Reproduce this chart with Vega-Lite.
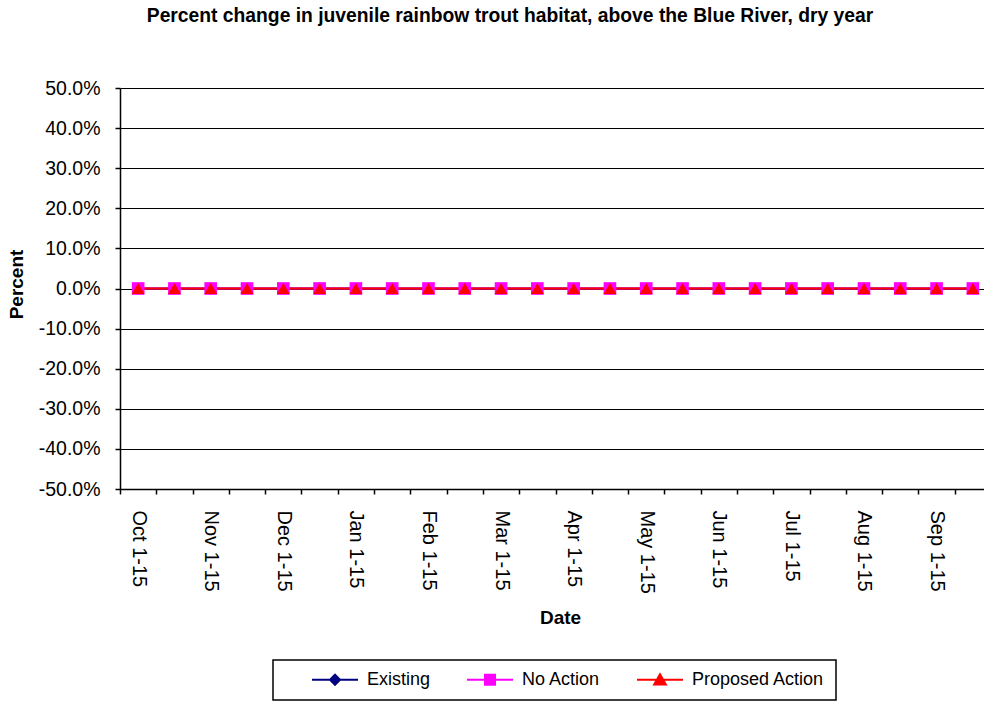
{
  "$schema": "https://vega.github.io/schema/vega-lite/v6.json",
  "width": 864,
  "height": 401,
  "autosize": {"type": "none"},
  "padding": {"left": 120, "top": 88, "right": 0, "bottom": 213},
  "background": "white",
  "title": {
    "text": "Percent change in juvenile rainbow trout habitat, above the Blue River, dry year",
    "font": "Liberation Sans",
    "fontSize": 19.3,
    "fontWeight": "bold",
    "color": "black",
    "anchor": "middle",
    "frame": "group",
    "dx": -42,
    "offset": 52
  },
  "data": {
    "values": [
      {"d": "Oct 1-15", "s": "Existing", "v": 0}, {"d": "Oct 16-31", "s": "Existing", "v": 0},
      {"d": "Nov 1-15", "s": "Existing", "v": 0}, {"d": "Nov 16-30", "s": "Existing", "v": 0},
      {"d": "Dec 1-15", "s": "Existing", "v": 0}, {"d": "Dec 16-31", "s": "Existing", "v": 0},
      {"d": "Jan 1-15", "s": "Existing", "v": 0}, {"d": "Jan 16-31", "s": "Existing", "v": 0},
      {"d": "Feb 1-15", "s": "Existing", "v": 0}, {"d": "Feb 16-28", "s": "Existing", "v": 0},
      {"d": "Mar 1-15", "s": "Existing", "v": 0}, {"d": "Mar 16-31", "s": "Existing", "v": 0},
      {"d": "Apr 1-15", "s": "Existing", "v": 0}, {"d": "Apr 16-30", "s": "Existing", "v": 0},
      {"d": "May 1-15", "s": "Existing", "v": 0}, {"d": "May 16-31", "s": "Existing", "v": 0},
      {"d": "Jun 1-15", "s": "Existing", "v": 0}, {"d": "Jun 16-30", "s": "Existing", "v": 0},
      {"d": "Jul 1-15", "s": "Existing", "v": 0}, {"d": "Jul 16-31", "s": "Existing", "v": 0},
      {"d": "Aug 1-15", "s": "Existing", "v": 0}, {"d": "Aug 16-31", "s": "Existing", "v": 0},
      {"d": "Sep 1-15", "s": "Existing", "v": 0}, {"d": "Sep 16-30", "s": "Existing", "v": 0},
      {"d": "Oct 1-15", "s": "No Action", "v": 0}, {"d": "Oct 16-31", "s": "No Action", "v": 0},
      {"d": "Nov 1-15", "s": "No Action", "v": 0}, {"d": "Nov 16-30", "s": "No Action", "v": 0},
      {"d": "Dec 1-15", "s": "No Action", "v": 0}, {"d": "Dec 16-31", "s": "No Action", "v": 0},
      {"d": "Jan 1-15", "s": "No Action", "v": 0}, {"d": "Jan 16-31", "s": "No Action", "v": 0},
      {"d": "Feb 1-15", "s": "No Action", "v": 0}, {"d": "Feb 16-28", "s": "No Action", "v": 0},
      {"d": "Mar 1-15", "s": "No Action", "v": 0}, {"d": "Mar 16-31", "s": "No Action", "v": 0},
      {"d": "Apr 1-15", "s": "No Action", "v": 0}, {"d": "Apr 16-30", "s": "No Action", "v": 0},
      {"d": "May 1-15", "s": "No Action", "v": 0}, {"d": "May 16-31", "s": "No Action", "v": 0},
      {"d": "Jun 1-15", "s": "No Action", "v": 0}, {"d": "Jun 16-30", "s": "No Action", "v": 0},
      {"d": "Jul 1-15", "s": "No Action", "v": 0}, {"d": "Jul 16-31", "s": "No Action", "v": 0},
      {"d": "Aug 1-15", "s": "No Action", "v": 0}, {"d": "Aug 16-31", "s": "No Action", "v": 0},
      {"d": "Sep 1-15", "s": "No Action", "v": 0}, {"d": "Sep 16-30", "s": "No Action", "v": 0},
      {"d": "Oct 1-15", "s": "Proposed Action", "v": 0}, {"d": "Oct 16-31", "s": "Proposed Action", "v": 0},
      {"d": "Nov 1-15", "s": "Proposed Action", "v": 0}, {"d": "Nov 16-30", "s": "Proposed Action", "v": 0},
      {"d": "Dec 1-15", "s": "Proposed Action", "v": 0}, {"d": "Dec 16-31", "s": "Proposed Action", "v": 0},
      {"d": "Jan 1-15", "s": "Proposed Action", "v": 0}, {"d": "Jan 16-31", "s": "Proposed Action", "v": 0},
      {"d": "Feb 1-15", "s": "Proposed Action", "v": 0}, {"d": "Feb 16-28", "s": "Proposed Action", "v": 0},
      {"d": "Mar 1-15", "s": "Proposed Action", "v": 0}, {"d": "Mar 16-31", "s": "Proposed Action", "v": 0},
      {"d": "Apr 1-15", "s": "Proposed Action", "v": 0}, {"d": "Apr 16-30", "s": "Proposed Action", "v": 0},
      {"d": "May 1-15", "s": "Proposed Action", "v": 0}, {"d": "May 16-31", "s": "Proposed Action", "v": 0},
      {"d": "Jun 1-15", "s": "Proposed Action", "v": 0}, {"d": "Jun 16-30", "s": "Proposed Action", "v": 0},
      {"d": "Jul 1-15", "s": "Proposed Action", "v": 0}, {"d": "Jul 16-31", "s": "Proposed Action", "v": 0},
      {"d": "Aug 1-15", "s": "Proposed Action", "v": 0}, {"d": "Aug 16-31", "s": "Proposed Action", "v": 0},
      {"d": "Sep 1-15", "s": "Proposed Action", "v": 0}, {"d": "Sep 16-30", "s": "Proposed Action", "v": 0}
    ]
  },
  "encoding": {
    "x": {
      "field": "d",
      "type": "nominal",
      "sort": null,
      "scale": {"range": [0, 871], "paddingInner": 0, "paddingOuter": 0},
      "axis": {
        "title": "Date",
        "titleX": 440,
        "titleY": 128,
        "titleBaseline": "middle",
        "titleAlign": "center",
        "labelAngle": 90,
        "labelPadding": 16,
        "labelOverlap": false,
        "labelBound": false,
        "labelFontSize": 20,
        "tickBand": "extent",
        "tickSize": 5,
        "grid": false,
        "labelExpr": "substring(datum.label, 3) === ' 1-15' ? datum.label : ''"
      }
    },
    "y": {
      "field": "v",
      "type": "quantitative",
      "scale": {"domain": [-0.5, 0.5], "nice": false, "zero": false},
      "axis": {
        "title": "Percent",
        "titleX": -104,
        "titleY": 196,
        "titleAngle": -90,
        "titleAlign": "center",
        "titleBaseline": "middle",
        "values": [-0.5, -0.4, -0.3, -0.2, -0.1, 0, 0.1, 0.2, 0.3, 0.4, 0.5],
        "labelExpr": "replace(format(datum.value, '.1%'), '\u2212', '-')",
        "labelPadding": 15,
        "labelFontSize": 19.5,
        "tickSize": 5,
        "grid": true,
        "gridColor": "black",
        "gridWidth": 1,
        "gridOpacity": 1
      }
    },
    "color": {
      "field": "s",
      "type": "nominal",
      "scale": {"domain": ["Existing", "No Action", "Proposed Action"], "range": ["#000080", "#FF00FF", "#FF0000"]},
      "legend": {
        "title": null,
        "orient": "none",
        "legendX": 153,
        "legendY": 572,
        "direction": "horizontal",
        "symbolSize": 5329,
        "symbolType": {"expr": "datum.value === 'Existing' ? 'M-0.26,0H1M0.37,-0.137L0.507,0L0.37,0.137L0.233,0Z' : datum.value === 'No Action' ? 'M-0.26,0H1M0.233,-0.137H0.507V0.137H0.233Z' : 'M-0.26,0H1M0.37,-0.15L0.53,0.13H0.21Z'"},
        "symbolFillColor": {"expr": "scale('color', datum.value)"},
        "symbolStrokeColor": {"expr": "scale('color', datum.value)"},
        "symbolStrokeWidth": 2,
        "symbolOpacity": 1,
        "clipHeight": 17,
        "padding": 11,
        "strokeColor": "black",
        "fillColor": "white",
        "columnPadding": 8,
        "labelOffset": 8,
        "labelFont": "Liberation Sans",
        "labelFontSize": 18,
        "labelColor": "black",
        "labelLimit": 400,
        "labelExpr": "datum.label + '\u00a0\u00a0\u00a0'"
      }
    }
  },
  "layer": [
    {"mark": {"type": "line", "strokeWidth": 2}},
    {
      "transform": [{"filter": "datum.s === 'Existing'"}],
      "mark": {"type": "point", "filled": true, "size": 150, "opacity": 1, "shape": "diamond"}
    },
    {
      "transform": [{"filter": "datum.s === 'No Action'"}],
      "mark": {"type": "point", "filled": true, "size": 160, "opacity": 1, "shape": "square"}
    },
    {
      "transform": [{"filter": "datum.s === 'Proposed Action'"}],
      "mark": {"type": "point", "filled": true, "size": 165, "opacity": 1, "shape": "triangle-up"}
    }
  ],
  "config": {
    "font": "Liberation Sans",
    "view": {"stroke": null},
    "axis": {
      "labelFont": "Liberation Sans",
      "labelFontSize": 20,
      "labelColor": "black",
      "titleFont": "Liberation Sans",
      "titleFontSize": 19,
      "titleFontWeight": "bold",
      "titleColor": "black",
      "domainColor": "black",
      "domainWidth": 1.5,
      "tickColor": "black",
      "tickWidth": 1.5
    },
    "legend": {"strokeWidth": 1.5}
  }
}
